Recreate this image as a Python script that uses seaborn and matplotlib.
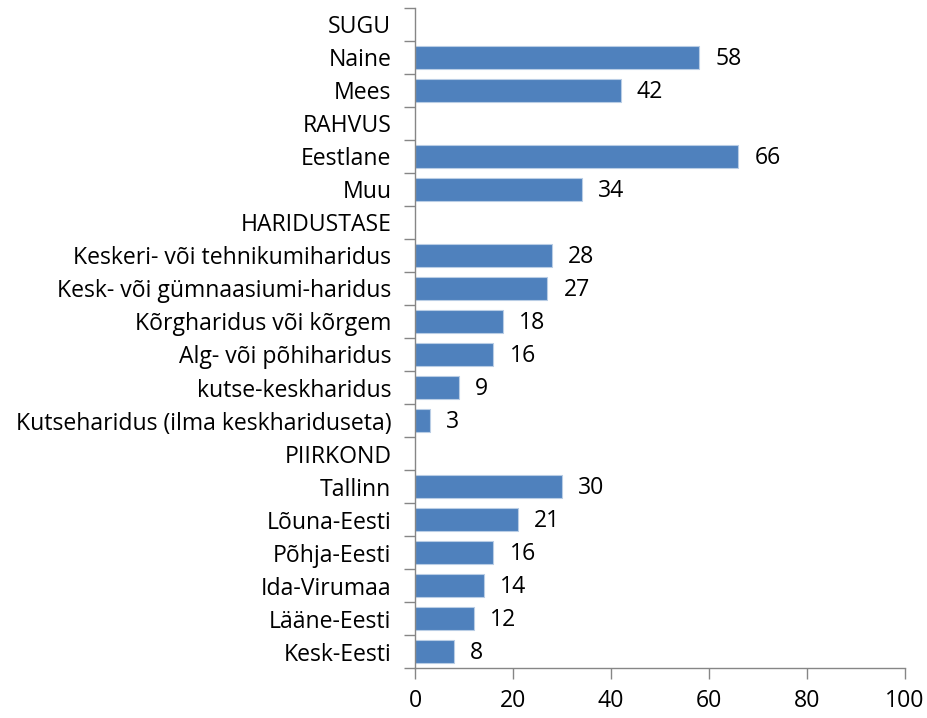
import matplotlib.pyplot as plt
import seaborn as sns
import pandas as pd
import numpy as np

# row order as in the chart, group headers have no bar
rows = ["SUGU", "Naine", "Mees",
        "RAHVUS", "Eestlane", "Muu",
        "HARIDUSTASE", "Keskeri- või tehnikumiharidus", "Kesk- või gümnaasiumi-haridus",
        "Kõrgharidus või kõrgem", "Alg- või põhiharidus", "kutse-keskharidus",
        "Kutseharidus (ilma keskhariduseta)",
        "PIIRKOND", "Tallinn", "Lõuna-Eesti", "Põhja-Eesti", "Ida-Virumaa",
        "Lääne-Eesti", "Kesk-Eesti"]
categories = ["Naine", "Mees", "Eestlane", "Muu",
              "Keskeri- või tehnikumiharidus", "Kesk- või gümnaasiumi-haridus",
              "Kõrgharidus või kõrgem", "Alg- või põhiharidus", "kutse-keskharidus",
              "Kutseharidus (ilma keskhariduseta)",
              "Tallinn", "Lõuna-Eesti", "Põhja-Eesti", "Ida-Virumaa",
              "Lääne-Eesti", "Kesk-Eesti"]
values = [58, 42, 66, 34, 28, 27, 18, 16, 9, 3, 30, 21, 16, 14, 12, 8]

df = pd.DataFrame({"label": categories, "value": values})

sns.set_style("white")
plt.rcParams['font.family'] = ['Open Sans', 'DejaVu Sans']
fs = 16.6

fig = plt.figure(figsize=(9.28, 7.18), dpi=100)
ax = fig.add_axes([0.4472, 0.0696, 0.528, 0.9193])

sns.barplot(data=df, y="label", x="value", order=rows, orient="h",
            color="#4F81BD", saturation=1, width=0.72,
            edgecolor="#B9CDE5", linewidth=0.8, ax=ax)

for p, v in zip([rows.index(c) for c in categories], values):
    ax.text(v + 3.3, p + 0.05, str(v), va="center", ha="left", fontsize=fs, color="black")

grey = "#868686"
ax.set_xlim(0, 100)
ax.set_ylim(len(rows) - 0.5, -0.5)
ax.set_xticks(np.arange(0, 101, 20))
ax.set_xlabel("")
ax.set_ylabel("")
ax.set_yticks(np.arange(len(rows)))
ax.set_yticklabels(rows)
ax.set_yticks(np.arange(-0.5, len(rows), 1), minor=True)
ax.tick_params(axis="y", which="major", left=True, length=0, labelsize=fs, pad=17,
               labelcolor="black")
ax.tick_params(axis="y", which="minor", left=True, length=8, width=1, color=grey,
               direction="out")
ax.tick_params(axis="x", bottom=True, length=8, width=1, color=grey, direction="out",
               labelsize=fs, pad=7, labelcolor="black")
for s in ["top", "right"]:
    ax.spines[s].set_visible(False)
for s in ["left", "bottom"]:
    ax.spines[s].set_color(grey)
    ax.spines[s].set_linewidth(1)

fig.savefig("out.png", dpi=100)
